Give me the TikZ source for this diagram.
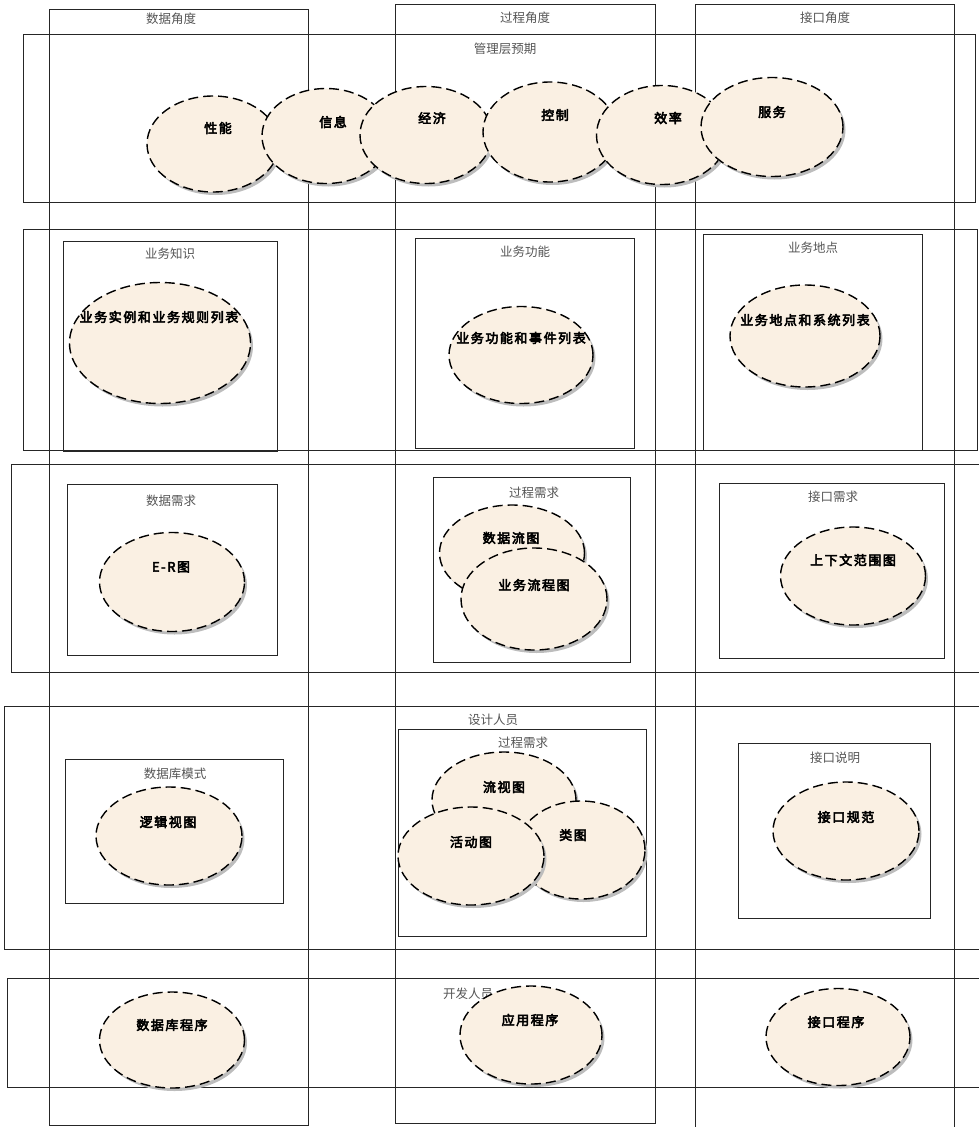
\documentclass[tikz,border=0pt]{standalone}
\usepackage{fontspec}
\newfontfamily\cjk{Noto Sans CJK SC}
\newfontfamily\cjkb[LetterSpace=12, FakeBold=4]{Noto Sans CJK SC}
\usetikzlibrary{shapes.geometric,shadows}
\definecolor{ellfill}{HTML}{FAF0E3}
\definecolor{shd}{HTML}{BDBDBD}
\definecolor{ttlc}{HTML}{555555}
\tikzset{
  box/.style={draw=black!85, line width=0.9pt},
  ttl/.style={font=\cjk\fontsize{12.5}{12.5}\selectfont, text=ttlc, inner sep=0},
  ell/.style={ellipse, draw=black, fill=ellfill, line width=1.4pt,
    dash pattern=on 10pt off 5pt, inner sep=0,
    drop shadow={shadow xshift=2.5pt, shadow yshift=-3pt, fill=shd, opacity=1}},
  elab/.style={font=\cjkb\fontsize{13}{13}\selectfont, inner sep=0},
}
\begin{document}
\begin{tikzpicture}[x=1pt,y=-1pt]
\useasboundingbox (0,0) rectangle (978,1127);
% column boxes
\draw[box] (49,9) rectangle (308,1125);
\draw[box] (395,4) rectangle (655,1123);
\draw[box] (695,4) rectangle (954,1140);
\node[ttl] (c1) at (171,19) {数据角度};
\node[ttl] (c2) at (525,18) {过程角度};
\node[ttl] (c3) at (825,18) {接口角度};
% row boxes
\draw[box] (23,34) rectangle (975,202);
\draw[box] (23,229) rectangle (977,450);
\draw[box] (11,464) rectangle (990,672);
\draw[box] (4,706) rectangle (990,949);
\draw[box] (7,978) rectangle (990,1087);
\node[ttl] (r1) at (505,49) {管理层预期};
% inner boxes
\draw[box] (63,241) rectangle (277,451);
\node[ttl] (b1) at (170,254) {业务知识};
\draw[box] (415,238) rectangle (634,448);
\node[ttl] (b2) at (525,252) {业务功能};
\draw[box] (703,234) rectangle (922,450);
\node[ttl] (b3) at (813,248) {业务地点};
\draw[box] (67,484) rectangle (277,655);
\node[ttl] (b4) at (171,501) {数据需求};
\draw[box] (433,477) rectangle (630,662);
\node[ttl] (b5) at (534,493) {过程需求};
\draw[box] (719,483) rectangle (944,658);
\node[ttl] (b6) at (833,497) {接口需求};
\draw[box] (65,759) rectangle (283,903);
\node[ttl] (b7) at (175,774) {数据库模式};
\node[ttl] (p1) at (493,720) {设计人员};
\draw[box] (398,729) rectangle (646,936);
\node[ttl] (b8) at (523,743) {过程需求};
\draw[box] (738,743) rectangle (930,918);
\node[ttl] (b9) at (835,758) {接口说明};
\node[ttl] (p2) at (468,994) {开发人员};
% row 1 ellipses
\node[ell, minimum width=132, minimum height=96] (e1) at (213,144) {};
\node[elab] (l1) at (218,128) {性能};
\node[ell, minimum width=128, minimum height=95] (e2) at (326,136) {};
\node[elab] (l2) at (333,122) {信息};
\node[ell, minimum width=132, minimum height=97] (e3) at (426,135) {};
\node[elab] (l3) at (432,118) {经济};
\node[ell, minimum width=134, minimum height=100] (e4) at (550,132) {};
\node[elab] (l4) at (555,115) {控制};
\node[ell, minimum width=131, minimum height=99] (e5) at (662,135) {};
\node[elab] (l5) at (668,118) {效率};
\node[ell, minimum width=142, minimum height=99] (e6) at (772,127) {};
\node[elab] (l6) at (772,112) {服务};
% row 2
\node[ell, minimum width=181, minimum height=121] (e7) at (160,343) {};
\node[elab] (l7) at (159,317) {业务实例和业务规则列表};
\node[ell, minimum width=144, minimum height=97] (e8) at (521,355) {};
\node[elab] (l8) at (521,338) {业务功能和事件列表};
\node[ell, minimum width=150, minimum height=102] (e9) at (805,336) {};
\node[elab] (l9) at (805,320) {业务地点和系统列表};
% row 3
\node[ell, minimum width=145, minimum height=99] (e10) at (172,582) {};
\node[elab] (l10) at (171,567) {E-R图};
\node[ell, minimum width=145, minimum height=96] (e11) at (512,553) {};
\node[elab] (l11) at (511,538) {数据流图};
\node[ell, minimum width=146, minimum height=102] (e12) at (534,599) {};
\node[elab] (l12) at (534,585) {业务流程图};
\node[ell, minimum width=145, minimum height=98] (e13) at (853,576) {};
\node[elab] (l13) at (853,560) {上下文范围图};
% row 4
\node[ell, minimum width=146, minimum height=98] (e14) at (169,836) {};
\node[elab] (l14) at (168,822) {逻辑视图};
\node[ell, minimum width=144, minimum height=96] (e15) at (504,800) {};
\node[elab] (l15) at (504,787) {流视图};
\node[ell, minimum width=128, minimum height=98] (e16) at (581,850) {};
\node[elab] (l16) at (573,835) {类图};
\node[ell, minimum width=146, minimum height=98] (e17) at (471,856) {};
\node[elab] (l17) at (471,842) {活动图};
\node[ell, minimum width=146, minimum height=98] (e18) at (846,831) {};
\node[elab] (l18) at (846,817) {接口规范};
% row 5
\node[ell, minimum width=145, minimum height=96] (e19) at (172,1040) {};
\node[elab] (l19) at (172,1025) {数据库程序};
\node[ell, minimum width=142, minimum height=98] (e20) at (531,1035) {};
\node[elab] (l20) at (530,1020) {应用程序};
\node[ell, minimum width=144, minimum height=97] (e21) at (838,1037) {};
\node[elab] (l21) at (836,1022) {接口程序};
\end{tikzpicture}
\end{document}
